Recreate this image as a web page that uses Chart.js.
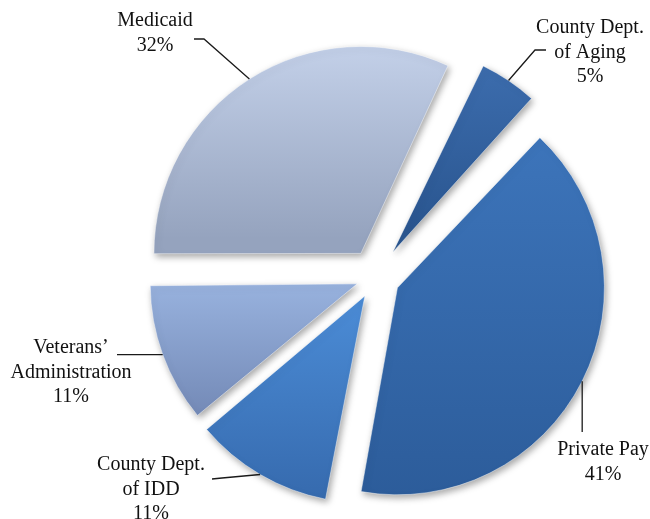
<!DOCTYPE html>
<html><head><meta charset="utf-8">
<script src="https://cdn.jsdelivr.net/npm/chart.js@4"></script>
<style>html,body{margin:0;padding:0;background:#fff}#wrap{width:650px;height:519px;position:relative}</style>
</head><body><div id="wrap"><canvas id="c"></canvas></div>
<script>
// ---- data ----
const categories = ["County Dept. of Aging", "Private Pay", "County Dept. of IDD", "Veterans' Administration", "Medicaid"];
const labelLines = [["County Dept.", "of Aging"], ["Private Pay"], ["County Dept.", "of IDD"], ["Veterans\u2019", "Administration"], ["Medicaid"]];
const shares = [5, 41, 11, 11, 32];
const percentLabels = ["5%", "41%", "11%", "11%", "32%"];

// ---- style ----
const topColors = ["#3f70b2", "#3f78bf", "#4a8ad4", "#98b2de", "#c9d6ee"];
const bottomColors = ["#2a5690", "#2c5c9a", "#3467aa", "#7389b6", "#95a3be"];
const gradStops = [[0.07, 0.45], [0.09, 0.93], [0.53, 0.95], [0.5, 0.77], [0.03, 0.47]];
const explode = [120, 96, 88, 80, 112];
const RADIUS = 207;
const labelLayout = [
  {x: 590, y: 28, path: [[535, 50], [546, 50]]},
  {x: 603, y: 450, path: [[null, 432]]},
  {x: 151, y: 465, path: [[222, 478], [212, 479]]},
  {x: 71, y: 348, path: [[117, null]]},
  {x: 155, y: 21, path: [[204, 39], [194, 39]]}
];

function sliceFill(ctx) {
  const chart = ctx.chart;
  const i = ctx.dataIndex;
  const ca = chart.chartArea;
  if (!ca) return topColors[i];
  const cy = (ca.top + ca.bottom) / 2;
  const y0 = cy - RADIUS - 40, y1 = cy + RADIUS + 40;
  const g = chart.ctx.createLinearGradient(0, y0, 0, y1);
  g.addColorStop(gradStops[i][0], topColors[i]);
  g.addColorStop(gradStops[i][1], bottomColors[i]);
  return g;
}

const fixRadius = {
  id: 'fixRadius',
  afterUpdate(chart) {
    chart.getDatasetMeta(0).data.forEach((arc) => {
      const off = (arc.options.offset || 0) / 4;
      const fix = 1 - Math.sin(Math.min(Math.PI, arc.circumference || 0));
      arc.outerRadius = RADIUS - off * fix;
    });
  }
};

const shadow = {
  id: 'shadow',
  beforeDatasetsDraw(chart) {
    const c = chart.ctx;
    c.save();
    c.shadowColor = 'rgba(0,0,0,0.35)';
    c.shadowBlur = 7;
    c.shadowOffsetX = 2;
    c.shadowOffsetY = 3;
  },
  afterDatasetsDraw(chart) { chart.ctx.restore(); }
};

const labelsPlugin = {
  id: 'sliceLabels',
  afterDatasetsDraw(chart) {
    const c = chart.ctx;
    c.save();
    chart.getDatasetMeta(0).data.forEach((arc, i) => {
      const mid = (arc.startAngle + arc.endAngle) / 2;
      const off = (arc.options.offset || 0) / 4;
      const fix = 1 - Math.sin(Math.min(Math.PI, arc.circumference || 0));
      const r = arc.outerRadius + off * fix;
      const ax = arc.x + Math.cos(mid) * (off + r);
      const ay = arc.y + Math.sin(mid) * (off + r);
      const L = labelLayout[i];
      c.beginPath();
      c.moveTo(ax, ay);
      L.path.forEach(p => c.lineTo(p[0] === null ? ax : p[0], p[1] === null ? ay : p[1]));
      c.strokeStyle = '#1a1a1a';
      c.lineWidth = 1.3;
      c.stroke();
      c.fillStyle = '#111';
      c.font = '20px "Liberation Serif", "DejaVu Serif", serif';
      c.textAlign = 'center';
      c.textBaseline = 'middle';
      const lines = labelLines[i].concat([percentLabels[i]]);
      lines.forEach((t, k) => c.fillText(t, L.x, L.y + k * 24.5));
    });
    c.restore();
  }
};

new Chart(document.getElementById('c'), {
  type: 'pie',
  data: {
    labels: categories,
    datasets: [{
      data: shares,
      backgroundColor: sliceFill,
      borderColor: 'rgba(255,255,255,0.45)',
      borderWidth: 1,
      offset: explode
    }]
  },
  options: {
    responsive: true,
    maintainAspectRatio: false,
    animation: false,
    rotation: 25,
    radius: RADIUS,
    layout: {padding: {left: 102, top: 35, right: 0, bottom: 0}},
    plugins: {legend: {display: false}, tooltip: {enabled: false}, title: {display: false}}
  },
  plugins: [fixRadius, shadow, labelsPlugin]
});
</script>
</body></html>
